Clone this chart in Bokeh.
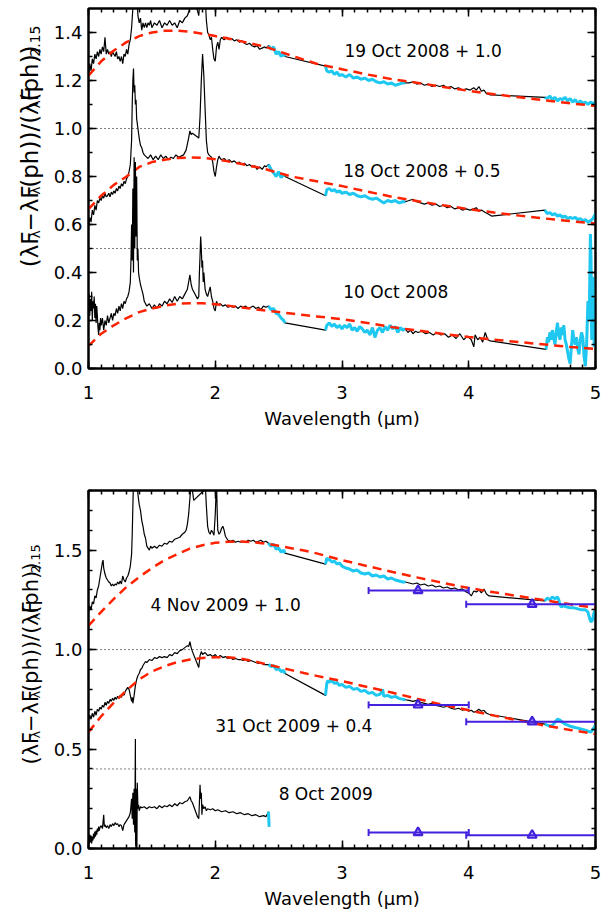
import numpy as np
from math import pi
from bokeh.plotting import figure
from bokeh.layouts import column, row
from bokeh.models import (Span, LinearAxis, SingleIntervalTicker, PrintfTickFormatter, Range1d,
                          CustomLabelingPolicy)
from bokeh.embed import file_html
from bokeh.resources import INLINE
from bokeh.core.properties import value

# ------------------------------------------------------------------ data
EPOCHS_2008 = ["19 Oct 2008", "18 Oct 2008", "10 Oct 2008"]
OFFSETS_2008 = [1.0, 0.5, 0.0]
EPOCHS_2009 = ["4 Nov 2009", "31 Oct 2009", "8 Oct 2009"]
OFFSETS_2009 = [1.0, 0.4, 0.0]

# wavelength windows (micron) covered by the space-based spectra (cyan)
CYAN_WINDOWS = [(2.41, 2.56), (2.86, 3.505), (4.59, 5.01)]

# (wavelength [micron], (lamF - lamF(ph)) / lamF(ph)_2.15), offsets removed
SPEC_19OCT08 = [
    (1.00, .22), (1.01, .27), (1.02, .24), (1.03, .29), (1.04, .27), (1.05, .31), (1.06, .29), (1.07, .32), (1.08, .30), (1.09, .33),
    (1.10, .31), (1.11, .34), (1.12, .32), (1.13, .38), (1.14, .31), (1.15, .33), (1.16, .31), (1.17, .32), (1.18, .30), (1.19, .32),
    (1.20, .31), (1.21, .30), (1.22, .32), (1.23, .29), (1.24, .30), (1.25, .28), (1.26, .30), (1.27, .27), (1.28, .31), (1.29, .30),
    (1.30, .33), (1.31, .31), (1.32, .35), (1.33, .37), (1.34, .42), (1.35, .50), (1.36, .62), (1.37, .60), (1.38, .56), (1.39, .47),
    (1.40, .44), (1.41, .46), (1.42, .41), (1.43, .44), (1.44, .42), (1.45, .44), (1.46, .42), (1.47, .44), (1.48, .43), (1.49, .45),
    (1.50, .42), (1.52, .44), (1.54, .43), (1.56, .45), (1.58, .42), (1.60, .44), (1.62, .43), (1.64, .45), (1.66, .43), (1.68, .44),
    (1.70, .42), (1.72, .45), (1.74, .44), (1.76, .46), (1.78, .47), (1.80, .50), (1.82, .56), (1.86, .49), (1.87, .47), (1.88, .55),
    (1.89, .70), (1.90, .65), (1.92, .55), (1.93, .45), (1.94, .40), (1.95, .39), (1.96, .37), (1.97, .38), (1.98, .33), (1.99, .29),
    (2.00, .28), (2.01, .34), (2.02, .36), (2.03, .33), (2.04, .37), (2.05, .38), (2.07, .37), (2.09, .38), (2.11, .37), (2.13, .375),
    (2.15, .365), (2.17, .37), (2.19, .36), (2.21, .365), (2.23, .355), (2.25, .35), (2.27, .355), (2.29, .345), (2.31, .34), (2.33, .345),
    (2.35, .33), (2.37, .335), (2.39, .34), (2.40, .335),
    (2.42, .345), (2.44, .33), (2.46, .34), (2.48, .31), (2.50, .32), (2.52, .30), (2.54, .315), (2.55, .30),
    (2.87, .26), (2.88, .24), (2.90, .235), (2.92, .24), (2.94, .225), (2.96, .235), (2.98, .22), (3.00, .225), (3.03, .215), (3.06, .225),
    (3.09, .21), (3.12, .215), (3.15, .205), (3.18, .21), (3.21, .20), (3.24, .205), (3.27, .195), (3.30, .19), (3.33, .195), (3.36, .185),
    (3.39, .19), (3.42, .18), (3.45, .185), (3.48, .19), (3.50, .19),
    (3.53, .19), (3.56, .195), (3.59, .185), (3.62, .19), (3.65, .18), (3.68, .185), (3.71, .175), (3.74, .18), (3.77, .175), (3.80, .18),
    (3.83, .17), (3.86, .175), (3.89, .165), (3.92, .17), (3.95, .16), (3.98, .165), (4.01, .16), (4.04, .17), (4.06, .16), (4.08, .175),
    (4.10, .155), (4.12, .16), (4.14, .145), (4.17, .14),
    (4.60, .13), (4.62, .125), (4.64, .135), (4.66, .12), (4.68, .13), (4.70, .115), (4.72, .125), (4.74, .12), (4.76, .13), (4.78, .115),
    (4.80, .125), (4.82, .11), (4.84, .12), (4.86, .105), (4.88, .115), (4.90, .105), (4.92, .11), (4.94, .10), (4.96, .11), (4.98, .105),
    (5.00, .11),
]

SPEC_18OCT08 = [
    (1.00, .09), (1.01, .13), (1.02, .11), (1.03, .16), (1.04, .14), (1.05, .18), (1.06, .16), (1.07, .20), (1.08, .19), (1.09, .21),
    (1.10, .20), (1.11, .22), (1.12, .21), (1.13, .23), (1.14, .215), (1.15, .22), (1.16, .23), (1.17, .215), (1.18, .235), (1.19, .225),
    (1.20, .24), (1.21, .23), (1.22, .25), (1.23, .24), (1.24, .26), (1.25, .25), (1.26, .27), (1.27, .26), (1.28, .28), (1.29, .27),
    (1.30, .29), (1.31, .30), (1.32, .32), (1.33, .35), (1.34, .45), (1.345, .60), (1.35, .70), (1.355, .75), (1.36, .65), (1.365, .68),
    (1.37, .60), (1.375, .62), (1.38, .54), (1.39, .50), (1.40, .46), (1.41, .43), (1.42, .42), (1.43, .40), (1.44, .39), (1.45, .385),
    (1.47, .375), (1.49, .39), (1.51, .37), (1.53, .385), (1.55, .37), (1.57, .39), (1.59, .375), (1.61, .385), (1.63, .37), (1.65, .38),
    (1.67, .375), (1.69, .39), (1.71, .38), (1.73, .385), (1.75, .39), (1.77, .41), (1.79, .46), (1.80, .49), (1.81, .475), (1.82, .48),
    (1.87, .46), (1.88, .55), (1.89, .70), (1.90, .81), (1.91, .72), (1.92, .58), (1.93, .45), (1.94, .40), (1.95, .39), (1.96, .385),
    (1.97, .38), (1.98, .36), (1.99, .32), (2.00, .30), (2.01, .34), (2.02, .37), (2.03, .385), (2.04, .375), (2.05, .37), (2.07, .375),
    (2.09, .365), (2.11, .37), (2.13, .36), (2.15, .365), (2.17, .355), (2.19, .36), (2.21, .35), (2.23, .355), (2.25, .345), (2.27, .35),
    (2.29, .34), (2.31, .345), (2.33, .33), (2.35, .34), (2.37, .33), (2.39, .345), (2.40, .34),
    (2.42, .35), (2.44, .33), (2.46, .315), (2.48, .30), (2.50, .32), (2.52, .295), (2.54, .31), (2.55, .30),
    (2.87, .22), (2.88, .245), (2.90, .25), (2.92, .24), (2.94, .245), (2.96, .235), (2.98, .24), (3.00, .23), (3.03, .235), (3.06, .225),
    (3.09, .23), (3.12, .22), (3.15, .215), (3.18, .22), (3.21, .21), (3.24, .205), (3.27, .21), (3.30, .20), (3.33, .19), (3.36, .20),
    (3.39, .195), (3.42, .20), (3.45, .19), (3.48, .195), (3.50, .195),
    (3.53, .20), (3.56, .205), (3.59, .195), (3.62, .19), (3.65, .185), (3.68, .19), (3.71, .18), (3.74, .185), (3.77, .175), (3.80, .18),
    (3.83, .17), (3.86, .175), (3.89, .165), (3.92, .17), (3.95, .16), (3.98, .165), (4.01, .16), (4.04, .165), (4.06, .17), (4.08, .155),
    (4.10, .16), (4.13, .15), (4.15, .145), (4.18, .135),
    (4.60, .16), (4.62, .145), (4.64, .15), (4.66, .14), (4.68, .145), (4.70, .135), (4.72, .14), (4.74, .13), (4.76, .135), (4.78, .125),
    (4.80, .13), (4.82, .125), (4.84, .13), (4.86, .12), (4.88, .125), (4.90, .115), (4.92, .12), (4.94, .11), (4.96, .115), (4.98, .125),
    (5.00, .145),
]

SPEC_10OCT08 = [
    (1.000, .27), (1.005, .31), (1.010, .22), (1.015, .29), (1.020, .24), (1.025, .32), (1.030, .20), (1.035, .28), (1.040, .25), (1.045, .30),
    (1.050, .21), (1.055, .27), (1.060, .19), (1.065, .26), (1.070, .22), (1.075, .17), (1.080, .14), (1.085, .19), (1.090, .16), (1.095, .21),
    (1.10, .18), (1.11, .21), (1.12, .16), (1.13, .20), (1.14, .18), (1.15, .22), (1.16, .19), (1.17, .21), (1.18, .23), (1.19, .20),
    (1.20, .23), (1.21, .22), (1.22, .25), (1.23, .23), (1.24, .26), (1.25, .24), (1.26, .27), (1.27, .25), (1.28, .28), (1.29, .27),
    (1.30, .29), (1.31, .30), (1.32, .32), (1.33, .36), (1.335, .45), (1.34, .60), (1.345, .45), (1.35, .75), (1.355, .40), (1.36, .88),
    (1.365, .50), (1.37, .86), (1.375, .55), (1.38, .80), (1.385, .45), (1.39, .50), (1.395, .40), (1.40, .38), (1.41, .35), (1.42, .33),
    (1.43, .31), (1.44, .28), (1.46, .26), (1.48, .27), (1.50, .25), (1.52, .265), (1.54, .25), (1.56, .27), (1.58, .26), (1.60, .28),
    (1.62, .27), (1.64, .29), (1.66, .275), (1.68, .30), (1.70, .28), (1.72, .30), (1.74, .29), (1.76, .31), (1.78, .33), (1.80, .39),
    (1.81, .35), (1.82, .33), (1.86, .29), (1.87, .30), (1.875, .40), (1.88, .47), (1.885, .55), (1.89, .50), (1.895, .42), (1.90, .45),
    (1.905, .36), (1.91, .40), (1.92, .33), (1.93, .31), (1.94, .30), (1.95, .32), (1.96, .34), (1.97, .30), (1.98, .28), (1.99, .25),
    (2.00, .24), (2.01, .28), (2.02, .265), (2.04, .27), (2.06, .26), (2.08, .265), (2.10, .255), (2.12, .26), (2.14, .255), (2.16, .26),
    (2.18, .25), (2.20, .26), (2.22, .255), (2.24, .26), (2.26, .25), (2.28, .255), (2.30, .26), (2.32, .25), (2.34, .255), (2.36, .245),
    (2.38, .26), (2.40, .255),
    (2.42, .26), (2.44, .245), (2.46, .25), (2.48, .23), (2.50, .225), (2.52, .21), (2.54, .20), (2.55, .19),
    (2.87, .16), (2.88, .18), (2.90, .19), (2.92, .175), (2.94, .185), (2.96, .17), (2.98, .18), (3.00, .165), (3.02, .18), (3.04, .17),
    (3.06, .185), (3.08, .16), (3.10, .17), (3.12, .155), (3.14, .175), (3.16, .165), (3.18, .15), (3.20, .16), (3.22, .14), (3.24, .17),
    (3.26, .13), (3.28, .16), (3.30, .17), (3.32, .15), (3.34, .175), (3.36, .16), (3.38, .18), (3.40, .165), (3.42, .175), (3.44, .15),
    (3.46, .17), (3.48, .16), (3.50, .165),
    (3.52, .15), (3.54, .16), (3.56, .145), (3.58, .155), (3.60, .15), (3.63, .155), (3.66, .145), (3.69, .15), (3.72, .14), (3.75, .15),
    (3.78, .14), (3.81, .145), (3.84, .13), (3.87, .14), (3.90, .125), (3.93, .145), (3.96, .12), (3.99, .135), (4.02, .12), (4.04, .09),
    (4.05, .14), (4.07, .12), (4.09, .13), (4.11, .11), (4.13, .15), (4.15, .12), (4.17, .115),
    (4.61, .08), (4.62, .13), (4.63, .11), (4.64, .15), (4.65, .12), (4.66, .16), (4.67, .13), (4.68, .10), (4.69, .15), (4.70, .19),
    (4.71, .14), (4.72, .12), (4.73, .17), (4.74, .14), (4.75, .18), (4.76, .12), (4.77, .10), (4.78, .07), (4.79, .04), (4.80, .02),
    (4.81, .09), (4.82, .16), (4.83, .12), (4.84, .10), (4.85, .13), (4.86, .08), (4.87, .06), (4.88, .12), (4.89, .15), (4.90, .13),
    (4.91, .05), (4.92, .01), (4.93, .10), (4.94, .28), (4.95, .20), (4.96, .56), (4.965, .45), (4.97, .12), (4.98, .38), (4.99, .09),
    (5.00, .15),
]

SPEC_4NOV09 = [
    (1.00, .19), (1.01, .22), (1.02, .20), (1.03, .24), (1.04, .23), (1.05, .27), (1.06, .26), (1.07, .30), (1.08, .32), (1.09, .36),
    (1.10, .40), (1.11, .44), (1.115, .45), (1.12, .41), (1.13, .38), (1.14, .36), (1.15, .35), (1.16, .34), (1.17, .335), (1.18, .32),
    (1.19, .33), (1.20, .32), (1.21, .33), (1.22, .325), (1.23, .34), (1.24, .33), (1.25, .345), (1.26, .33), (1.27, .37), (1.28, .35),
    (1.29, .34), (1.30, .36), (1.31, .37), (1.32, .39), (1.33, .42), (1.34, .48), (1.345, .58), (1.35, .72), (1.355, .85), (1.36, .95),
    (1.37, .90), (1.38, .85), (1.39, .78), (1.40, .73), (1.41, .70), (1.42, .65), (1.43, .62), (1.44, .58), (1.45, .56), (1.46, .52),
    (1.47, .51), (1.48, .50), (1.49, .52), (1.50, .51), (1.52, .52), (1.54, .51), (1.56, .525), (1.58, .52), (1.60, .535), (1.62, .53),
    (1.64, .545), (1.66, .54), (1.68, .555), (1.70, .56), (1.72, .565), (1.74, .58), (1.76, .59), (1.77, .60), (1.78, .63), (1.79, .68),
    (1.80, .76), (1.81, .85), (1.82, .80), (1.83, .75), (1.91, .80), (1.92, .85), (1.93, .72), (1.94, .62), (1.95, .59), (1.96, .58),
    (1.97, .60), (1.98, .59), (1.99, .575), (2.00, .68), (2.01, .85), (2.015, .70), (2.02, .60), (2.03, .58), (2.04, .59), (2.05, .61),
    (2.06, .62), (2.07, .60), (2.08, .57), (2.09, .56), (2.10, .55), (2.12, .545), (2.14, .55), (2.16, .54), (2.18, .545), (2.20, .54),
    (2.22, .545), (2.24, .54), (2.26, .55), (2.28, .545), (2.30, .55), (2.32, .54), (2.34, .545), (2.36, .55), (2.38, .54), (2.40, .545),
    (2.42, .535), (2.44, .52), (2.46, .53), (2.48, .505), (2.50, .51), (2.52, .49), (2.54, .50), (2.55, .485),
    (2.87, .43), (2.88, .46), (2.89, .45), (2.90, .455), (2.92, .44), (2.94, .445), (2.96, .43), (2.98, .435), (3.00, .42), (3.03, .41),
    (3.06, .405), (3.09, .395), (3.12, .40), (3.15, .385), (3.18, .38), (3.21, .385), (3.24, .37), (3.27, .375), (3.30, .365), (3.33, .37),
    (3.36, .355), (3.39, .36), (3.42, .35), (3.45, .345), (3.48, .34), (3.50, .34),
    (3.53, .335), (3.56, .33), (3.59, .335), (3.62, .325), (3.65, .33), (3.68, .32), (3.71, .325), (3.74, .315), (3.77, .32), (3.80, .31),
    (3.83, .315), (3.86, .305), (3.89, .31), (3.92, .30), (3.95, .305), (3.98, .29), (4.00, .285), (4.02, .27), (4.04, .295), (4.06, .29),
    (4.08, .30), (4.10, .285), (4.12, .305), (4.14, .28), (4.16, .27),
    (4.60, .245), (4.62, .26), (4.64, .25), (4.66, .265), (4.68, .255), (4.70, .265), (4.71, .25), (4.72, .225), (4.73, .215), (4.75, .22),
    (4.77, .215), (4.80, .21), (4.83, .21), (4.86, .205), (4.89, .20), (4.92, .20), (4.94, .19), (4.95, .165), (4.96, .145), (4.97, .14),
    (4.98, .16), (4.99, .19), (5.00, .195),
]

SPEC_31OCT09 = [
    (1.00, .24), (1.01, .27), (1.02, .25), (1.03, .28), (1.04, .26), (1.05, .29), (1.06, .27), (1.07, .30), (1.08, .29), (1.09, .31),
    (1.10, .30), (1.11, .32), (1.12, .31), (1.13, .335), (1.14, .32), (1.15, .34), (1.16, .33), (1.17, .35), (1.18, .34), (1.19, .355),
    (1.20, .345), (1.21, .36), (1.22, .35), (1.23, .365), (1.24, .355), (1.25, .37), (1.26, .36), (1.27, .38), (1.28, .37), (1.29, .39),
    (1.30, .40), (1.31, .41), (1.32, .40), (1.33, .37), (1.34, .34), (1.345, .36), (1.35, .33), (1.36, .37), (1.37, .42), (1.38, .45),
    (1.39, .47), (1.40, .48), (1.41, .50), (1.42, .505), (1.43, .52), (1.44, .53), (1.45, .54), (1.46, .535), (1.48, .55), (1.50, .545),
    (1.52, .56), (1.54, .555), (1.56, .565), (1.58, .56), (1.60, .565), (1.62, .56), (1.64, .575), (1.66, .57), (1.68, .585), (1.70, .58),
    (1.72, .595), (1.74, .60), (1.76, .61), (1.78, .62), (1.79, .615), (1.80, .64), (1.81, .61), (1.82, .59), (1.87, .51), (1.88, .57),
    (1.89, .59), (1.90, .575), (1.92, .585), (1.94, .57), (1.96, .575), (1.98, .565), (2.00, .575), (2.02, .56), (2.04, .57), (2.06, .56),
    (2.08, .565), (2.10, .555), (2.12, .56), (2.14, .55), (2.16, .555), (2.18, .55), (2.20, .55), (2.22, .545), (2.24, .55), (2.26, .54),
    (2.28, .545), (2.30, .54), (2.32, .535), (2.34, .53), (2.36, .535), (2.38, .525), (2.40, .525),
    (2.42, .525), (2.44, .515), (2.46, .52), (2.48, .50), (2.50, .505), (2.52, .49), (2.54, .495), (2.55, .48),
    (2.87, .37), (2.88, .43), (2.89, .445), (2.90, .435), (2.92, .445), (2.94, .43), (2.96, .435), (2.98, .42), (3.00, .425), (3.03, .41),
    (3.06, .415), (3.09, .40), (3.12, .405), (3.15, .39), (3.18, .395), (3.21, .38), (3.24, .385), (3.27, .37), (3.30, .375), (3.32, .40),
    (3.33, .365), (3.36, .37), (3.39, .36), (3.42, .365), (3.45, .355), (3.48, .35), (3.50, .348),
    (3.53, .345), (3.56, .34), (3.59, .345), (3.62, .335), (3.65, .33), (3.68, .325), (3.71, .33), (3.74, .32), (3.77, .315), (3.80, .31),
    (3.83, .315), (3.86, .305), (3.89, .30), (3.92, .305), (3.95, .295), (3.98, .30), (4.00, .29), (4.02, .295), (4.04, .285), (4.06, .29),
    (4.08, .30), (4.10, .29), (4.12, .295), (4.14, .28), (4.16, .275),
    (4.60, .225), (4.62, .22), (4.64, .215), (4.66, .22), (4.68, .235), (4.70, .25), (4.72, .245), (4.74, .235), (4.76, .225), (4.78, .22),
    (4.80, .215), (4.83, .21), (4.86, .205), (4.89, .20), (4.92, .195), (4.94, .19), (4.96, .185), (4.97, .19), (4.98, .20), (5.00, .22),
]

SPEC_8OCT09 = [
    (1.000, .05), (1.005, .02), (1.010, .07), (1.015, .03), (1.020, .065), (1.025, .025), (1.030, .06), (1.035, .04), (1.040, .075), (1.045, .05),
    (1.050, .085), (1.055, .06), (1.060, .09), (1.065, .07), (1.070, .10), (1.075, .085), (1.080, .11), (1.085, .09), (1.090, .105), (1.10, .115),
    (1.11, .10), (1.12, .17), (1.125, .11), (1.13, .12), (1.14, .105), (1.15, .115), (1.16, .10), (1.17, .12), (1.18, .11), (1.19, .125),
    (1.20, .115), (1.21, .13), (1.22, .12), (1.23, .125), (1.24, .11), (1.25, .12), (1.26, .115), (1.27, .09), (1.28, .12), (1.29, .13),
    (1.30, .14), (1.31, .15), (1.32, .16), (1.33, .18), (1.34, .25), (1.345, .15), (1.35, .28), (1.355, .12), (1.36, .30), (1.365, .08),
    (1.37, .55), (1.372, .02), (1.375, .00), (1.38, .30), (1.382, .00), (1.385, .33), (1.39, .20), (1.395, .22), (1.40, .19), (1.41, .21),
    (1.42, .205), (1.44, .21), (1.46, .20), (1.48, .21), (1.50, .205), (1.52, .21), (1.54, .20), (1.56, .215), (1.58, .205), (1.60, .215),
    (1.62, .21), (1.64, .22), (1.66, .21), (1.68, .225), (1.70, .215), (1.72, .23), (1.74, .225), (1.76, .235), (1.78, .24), (1.80, .26),
    (1.81, .24), (1.82, .23), (1.86, .16), (1.87, .15), (1.875, .23), (1.88, .32), (1.885, .25), (1.89, .28), (1.895, .17), (1.90, .22),
    (1.91, .20), (1.92, .21), (1.93, .19), (1.94, .20), (1.96, .195), (1.98, .20), (2.00, .19), (2.02, .195), (2.05, .185), (2.08, .19),
    (2.11, .18), (2.14, .185), (2.17, .175), (2.20, .18), (2.23, .17), (2.26, .175), (2.29, .165), (2.32, .17), (2.35, .16), (2.38, .165),
    (2.40, .16), (2.42, .185), (2.425, .11),
]

# blackbody fits (red dashed), sampled off the figure, offsets removed
FIT_WL = [1.0, 1.1, 1.2, 1.3, 1.4, 1.5, 1.6, 1.7, 1.8, 1.9, 2.0, 2.1, 2.2, 2.3, 2.4, 2.5, 2.6, 2.7, 2.8, 2.9, 3.0,
          3.2, 3.4, 3.6, 3.8, 4.0, 4.2, 4.4, 4.6, 4.8, 5.0]
FIT_19OCT08 = [.22, .28, .325, .36, .385, .40, .407, .408, .403, .395, .385, .375, .364, .352, .34, .322, .304, .287, .27, .258, .247,
               .225, .205, .19, .173, .157, .143, .13, .117, .105, .094]
FIT_18OCT08 = [.164, .22, .265, .30, .34, .36, .37, .377, .379, .378, .372, .363, .353, .342, .33, .315, .30, .29, .28, .27, .26,
               .237, .215, .197, .18, .164, .15, .137, .125, .114, .104]
FIT_10OCT08 = [.094, .145, .18, .21, .235, .25, .262, .27, .272, .272, .268, .262, .255, .248, .241, .235, .229, .223, .217, .211, .205,
               .19, .172, .158, .144, .131, .12, .11, .10, .09, .082]
FIT_4NOV09 = [.12, .19, .255, .315, .365, .41, .45, .48, .508, .525, .537, .542, .543, .54, .533, .522, .51, .498, .484, .467, .45,
              .42, .39, .362, .335, .31, .288, .268, .248, .228, .21]
FIT_31OCT09 = [.185, .265, .333, .395, .45, .49, .517, .537, .55, .558, .562, .562, .555, .542, .527, .512, .497, .482, .468, .455, .442,
               .412, .383, .352, .322, .295, .268, .243, .218, .196, .175]

# photometry (blue triangles): band centre and band edges, values with offsets removed
PHOT_WL = [3.6, 4.5]
PHOT_LO = [3.21, 3.98]
PHOT_HI = [4.00, 5.05]
PHOT_4NOV09 = [0.297, 0.228]
PHOT_31OCT09 = [0.322, 0.237]
PHOT_8OCT09 = [0.080, 0.067]

X_LABEL = "Wavelength (μm)"

# ------------------------------------------------------------------ style / layout
FONT = "DejaVu Sans"
CYAN = "#1ec8f0"
RED = "#ff2200"
BLUE = "#4422dd"
STRIP_W = 45
TOP_TEXT_POS = [(3.02, 1.325), (3.01, 0.825), (3.01, 0.318)]
BOT_TEXT_POS = [(1.49, 1.225), (2.00, 0.617), (2.50, 0.275)]

# glyph advance widths of DejaVu Sans (em), used to lay out the composite y label
ADV = {"(": 0.390, ")": 0.390, "λ": 0.592, "F": 0.575, "−": 0.838, "/": 0.337,
       "p": 0.635, "h": 0.634, "2": 0.636, ".": 0.318, "1": 0.636, "5": 0.636}
YLABEL_PIECES = [("(λF", False), ("λ", True), ("−λF", False), ("λ", True), ("(ph))/(λF", False),
                 ("λ", True), ("(ph))", False), ("2.15", True)]

HIDE_LABELS = CustomLabelingPolicy(code="return []")


def style_axis(ax, labels=True, standoff=6):
    ax.axis_line_color = "black"
    ax.axis_line_width = 2
    ax.major_tick_in = 8
    ax.major_tick_out = 0
    ax.minor_tick_in = 4
    ax.minor_tick_out = 0
    ax.major_tick_line_color = "black"
    ax.minor_tick_line_color = "black"
    ax.major_tick_line_width = 1.5
    ax.minor_tick_line_width = 1.5
    if labels:
        ax.major_label_text_font = FONT
        ax.major_label_text_font_size = "18px"
        ax.major_label_text_color = "black"
        ax.major_label_standoff = standoff
    else:
        ax.major_label_policy = HIDE_LABELS
        ax.major_label_text_font_size = "1px"
        ax.major_label_standoff = 0


def make_fig(height, top, bottom, ymax, yint, yminor):
    p = figure(width=610 - STRIP_W, height=height, x_range=Range1d(1, 5), y_range=Range1d(0, ymax),
               output_backend="svg", toolbar_location=None,
               min_border_left=88 - STRIP_W, min_border_right=15, min_border_top=top, min_border_bottom=bottom)
    p.xgrid.visible = False
    p.ygrid.visible = False
    p.outline_line_color = "black"
    p.outline_line_width = 2
    p.background_fill_color = "white"
    p.border_fill_color = "white"
    xt = SingleIntervalTicker(interval=1, num_minor_ticks=10)
    yt = SingleIntervalTicker(interval=yint, num_minor_ticks=yminor)
    p.xaxis.ticker = xt
    p.yaxis.ticker = yt
    p.yaxis.formatter = PrintfTickFormatter(format="%.1f")
    style_axis(p.xaxis[0], True, 17)
    style_axis(p.yaxis[0], True, 6)
    p.xaxis.axis_label = X_LABEL
    p.xaxis.axis_label_text_font = FONT
    p.xaxis.axis_label_text_font_size = "18px"
    p.xaxis.axis_label_text_font_style = "normal"
    p.xaxis.axis_label_text_color = "black"
    p.xaxis.axis_label_standoff = 6
    ra = LinearAxis(ticker=yt)
    style_axis(ra, False)
    p.add_layout(ra, "right")
    ta = LinearAxis(ticker=xt)
    style_axis(ta, False)
    p.add_layout(ta, "above")
    return p


def make_ylabel_strip(height, y0, fs, xbase):
    """Narrow strip left of a panel holding the rotated y-axis title (pixel coordinates)."""
    s = figure(width=STRIP_W, height=height, x_range=Range1d(0, STRIP_W), y_range=Range1d(0, height),
               output_backend="svg", toolbar_location=None, x_axis_location=None, y_axis_location=None,
               min_border=0, outline_line_color=None)
    s.xgrid.visible = False
    s.ygrid.visible = False
    s.background_fill_color = "white"
    s.border_fill_color = "white"
    sub_fs = round(fs * 0.6)
    main = dict(x=[], y=[], text=[])
    subs = dict(x=[], y=[], text=[])
    y = y0
    for txt, sub in YLABEL_PIECES:
        size = sub_fs if sub else fs
        d = subs if sub else main
        d["x"].append(xbase + (fs * 0.22 if sub else 0))
        d["y"].append(y)
        d["text"].append(txt)
        y += sum(ADV[c] for c in txt) * size + 0.5
    for d, size in ((main, fs), (subs, sub_fs)):
        s.text(x=d["x"], y=d["y"], text=d["text"], angle=pi / 2, text_font=value(FONT),
               text_font_size=f"{size}px", text_color="black", text_align="left",
               text_baseline="alphabetic")
    return s


def draw_spec(p, pairs, offset):
    wl = np.array([a for a, _ in pairs])
    fl = np.array([b for _, b in pairs]) + offset
    p.line(wl, fl, line_color="black", line_width=1.2)
    for lo, hi in CYAN_WINDOWS:
        m = (wl >= lo) & (wl <= hi)
        if m.sum() > 1:
            p.line(wl[m], fl[m], line_color=CYAN, line_width=3)


def draw_fit(p, fit, offset):
    p.line(FIT_WL, np.array(fit) + offset, line_color=RED, line_width=2.5, line_dash="9 6")


def draw_phot(p, vals, offset):
    y = np.array(vals) + offset
    p.segment(x0=PHOT_LO, y0=y, x1=PHOT_HI, y1=y, line_color=BLUE, line_width=2)
    p.scatter(x=PHOT_LO + PHOT_HI, y=list(y) * 2, marker="dash", angle=pi / 2, size=7,
              line_color=BLUE, line_width=2)
    p.scatter(x=PHOT_WL, y=y, marker="triangle", size=9, line_color=BLUE, line_width=2.2,
              fill_color=BLUE, fill_alpha=0.25)


def label_text(name, off):
    return f"{name} + {off:.1f}" if off else name


# ------------------------------------------------------------------ top panel
p1 = make_fig(455, 8, 87, 1.5, 0.2, 2)
for off in OFFSETS_2008:
    if off:
        p1.add_layout(Span(location=off, dimension="width", line_color="black", line_width=1, line_dash="1 3"))
for spec, fit, off in zip([SPEC_19OCT08, SPEC_18OCT08, SPEC_10OCT08],
                          [FIT_19OCT08, FIT_18OCT08, FIT_10OCT08], OFFSETS_2008):
    draw_spec(p1, spec, off)
    draw_fit(p1, fit, off)
p1.text(x=[a for a, _ in TOP_TEXT_POS], y=[b for _, b in TOP_TEXT_POS],
        text=[label_text(n, o) for n, o in zip(EPOCHS_2008, OFFSETS_2008)],
        text_font=value(FONT), text_font_size="17px", text_color="black",
        text_align="left", text_baseline="middle")
s1 = make_ylabel_strip(455, 128, 23, 29)

# ------------------------------------------------------------------ bottom panel
p2 = make_fig(456, 35, 61, 1.8, 0.5, 5)
for off in OFFSETS_2009:
    if off:
        p2.add_layout(Span(location=off, dimension="width", line_color="black", line_width=1, line_dash="1 3"))
for spec, off in zip([SPEC_4NOV09, SPEC_31OCT09, SPEC_8OCT09], OFFSETS_2009):
    draw_spec(p2, spec, off)
for fit, off in zip([FIT_4NOV09, FIT_31OCT09], OFFSETS_2009[:2]):
    draw_fit(p2, fit, off)
for ph, off in zip([PHOT_4NOV09, PHOT_31OCT09, PHOT_8OCT09], OFFSETS_2009):
    draw_phot(p2, ph, off)
p2.text(x=[a for a, _ in BOT_TEXT_POS], y=[b for _, b in BOT_TEXT_POS],
        text=[label_text(n, o) for n, o in zip(EPOCHS_2009, OFFSETS_2009)],
        text_font=value(FONT), text_font_size="17px", text_color="black",
        text_align="left", text_baseline="middle")
s2 = make_ylabel_strip(456, 107, 21, 30)

layout = column(row(s1, p1, spacing=0), row(s2, p2, spacing=0), spacing=0)
open("out.html", "w").write(file_html(layout, INLINE))
